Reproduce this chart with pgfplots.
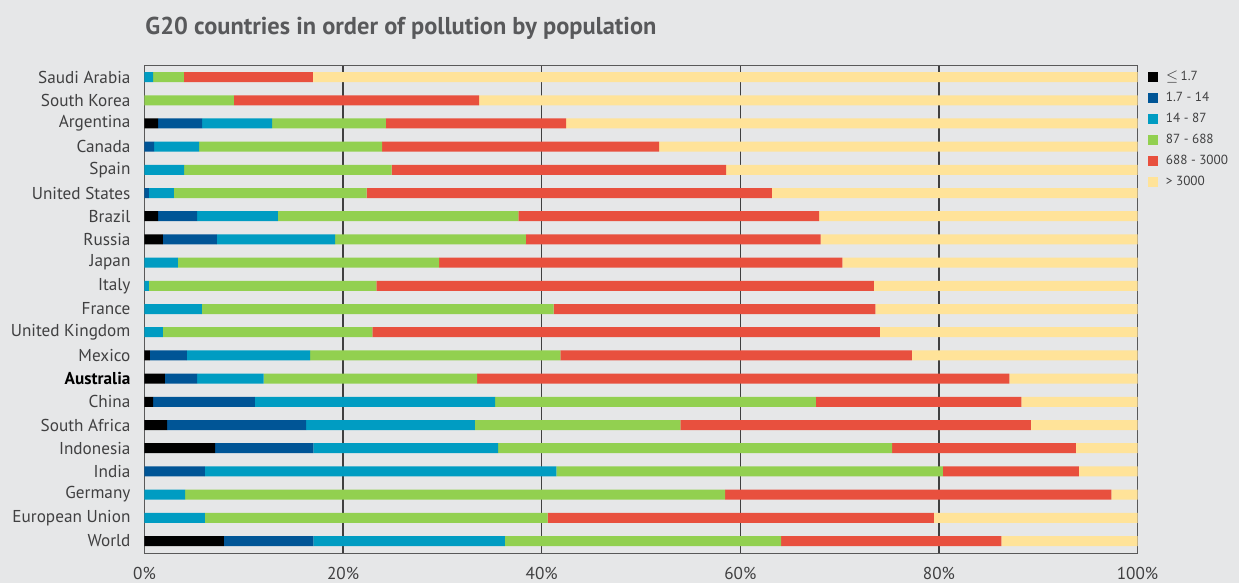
\documentclass[border=0pt]{standalone}
\usepackage{pgfplots}
\pgfplotsset{compat=1.18}
\usepackage{pgfplotstable}
\usepackage{fontspec}
\setmainfont{PT Sans}

\definecolor{bg}{HTML}{E6E7E8}
\definecolor{titlegray}{HTML}{58595B}
\definecolor{labelgray}{HTML}{404041}
\definecolor{cblack}{HTML}{000000}
\definecolor{cnavy}{HTML}{005596}
\definecolor{ccyan}{HTML}{009CC2}
\definecolor{cgreen}{HTML}{92D050}
\definecolor{cred}{HTML}{E8503E}
\definecolor{cyellow}{HTML}{FFE399}

% shares of population (%) by pollution band, World at y=0 up to Saudi Arabia at y=20
\pgfplotstableread{
y  a     b     c     d     e     f
0  8.0   9.0   19.3  27.8  22.2  13.7
1  0     0     6.09  34.5  38.9  20.51
2  0     0     4.08  54.4  38.9  2.62
3  0     6.09  35.4  38.9  13.7  5.91
4  7.1   9.9   18.6  39.7  18.5  6.2
5  2.27  14.0  17.0  20.7  35.3  10.73
6  0.86  10.25 24.2  32.3  20.7  11.69
7  2.06  3.23  6.7   21.5  53.6  12.91
8  0.55  3.73  12.4  25.2  35.4  22.72
9  0     0     1.86  21.1  51.1  25.94
10 0     0     5.79  35.4  32.4  26.41
11 0     0     0.45  22.9  50.1  26.55
12 0     0     3.37  26.3  40.6  29.73
13 1.86  5.44  11.9  19.2  29.7  31.9
14 1.36  3.93  8.15  24.2  30.3  32.06
15 0     0.45  2.52  19.4  40.8  36.83
16 0     0     3.98  20.9  33.7  41.42
17 0     0.96  4.53  18.43 27.9  48.18
18 1.36  4.44  7.04  11.46 18.15 57.55
19 0     0     0     9.0   24.7  66.3
20 0     0     0.86  3.1   13.0  83.04
}\datatable

\begin{document}
\begin{tikzpicture}
\path[use as bounding box, fill=bg] (0,0) rectangle (619.5pt,291.5pt);
\node[anchor=base west, inner sep=0pt, text=titlegray,
      font=\bfseries\fontsize{12.2}{14}\selectfont] at (72.5pt,274pt)
      {G20 countries in order of pollution by population};
\begin{axis}[
    at={(72.25pt,14.5pt)}, anchor=south west,
    scale only axis,
    width=496.5pt, height=244.15pt,
    xbar stacked,
    bar width=5pt,
    xmin=0, xmax=100,
    ymin=-0.56, ymax=20.49,
    xtick={0,20,40,60,80,100},
    xticklabels={0\%,20\%,40\%,60\%,80\%,100\%},
    ytick={0,...,20},
    yticklabels={World,European Union,Germany,India,Indonesia,South Africa,China,
      {\color{black}\bfseries Australia},Mexico,United Kingdom,France,Italy,Japan,Russia,
      Brazil,United States,Spain,Canada,Argentina,South Korea,Saudi Arabia},
    major tick length=0pt,
    xmajorgrids,
    major grid style={black!75, line width=0.7pt},
    axis line style={black!65, line width=0.5pt},
    ticklabel style={font=\fontsize{8.6}{10}\selectfont, text=labelgray},
    yticklabel style={xshift=-3.5pt},
    xticklabel style={yshift=-3pt},
    legend cell align=left,
    legend style={at={(1,1)}, anchor=north west, xshift=5pt, yshift=-2pt,
      draw=none, fill=none, inner sep=0pt,
      font=\fontsize{6.6}{7.5}\selectfont, text=labelgray,
      nodes={inner sep=0pt, text height=5pt, text depth=1.5pt},
      row sep=4pt,
      /tikz/every odd column/.append style={column sep=4pt}},
    legend image code/.code={\fill[#1] (0pt,-2.5pt) rectangle (5pt,2.5pt);},
    every axis plot/.append style={draw=none},
]
\addplot[fill=cblack]  table[x=a, y=y] {\datatable};
\addplot[fill=cnavy]   table[x=b, y=y] {\datatable};
\addplot[fill=ccyan]   table[x=c, y=y] {\datatable};
\addplot[fill=cgreen]  table[x=d, y=y] {\datatable};
\addplot[fill=cred]    table[x=e, y=y] {\datatable};
\addplot[fill=cyellow] table[x=f, y=y] {\datatable};
\legend{$\leq$\,1.7, 1.7 - 14, 14 - 87, 87 - 688, 688 - 3000, > 3000}
\end{axis}
\end{tikzpicture}
\end{document}
